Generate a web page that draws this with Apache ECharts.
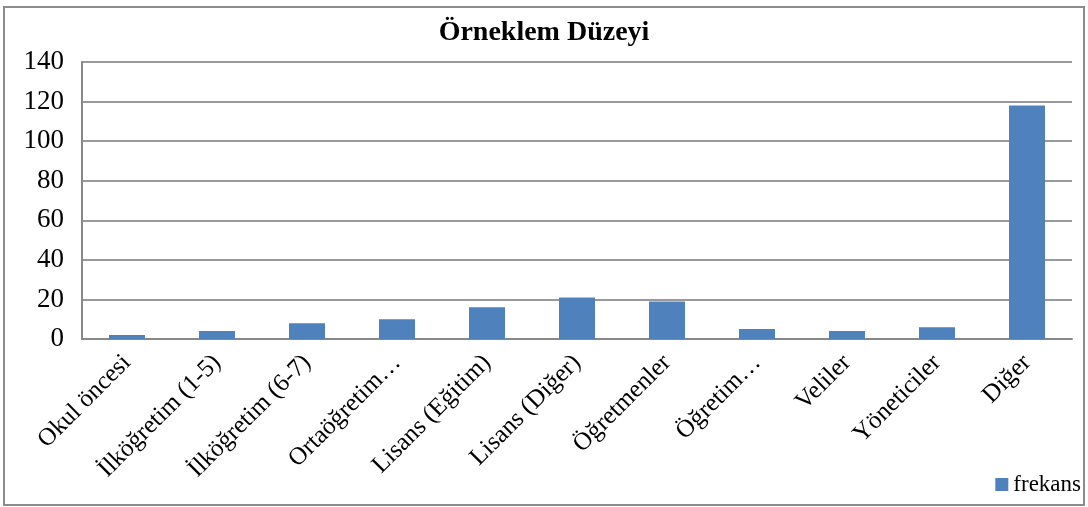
<!DOCTYPE html>
<html><head><meta charset="utf-8">
<script src="https://cdn.jsdelivr.net/npm/echarts@6/dist/echarts.min.js"></script>
<style>html,body{margin:0;padding:0;background:#fff}#c{width:1088px;height:507px}</style>
</head><body><div id="c"></div>
<script>
const categories = ["Okul öncesi","İlköğretim (1-5)","İlköğretim (6-7)","Ortaöğretim…","Lisans (Eğitim)","Lisans (Diğer)","Öğretmenler","Öğretim…","Veliler","Yöneticiler","Diğer"];
const frekans = [2,4,8,10,16,21,19,5,4,6,118];
const yTicks = {min:0,max:140,interval:20};
const chart = echarts.init(document.getElementById('c'));
const font = "'Liberation Serif','Times New Roman',serif";
chart.setOption({
  animation:false,
  graphic:[{type:'rect',shape:{x:4,y:7,width:1080,height:498},style:{fill:'none',stroke:'#8c8c8c',lineWidth:2}}],
  title:{text:'Örneklem Düzeyi',left:'center',top:14,textStyle:{fontFamily:font,fontSize:28,fontWeight:'bold',color:'#000'}},
  legend:{right:2,bottom:6,itemWidth:13,itemHeight:13,icon:'rect',itemGap:4,textStyle:{fontFamily:font,fontSize:23,color:'#000'},data:['frekans']},
  grid:{left:82,right:16,top:62,bottom:168,containLabel:false},
  xAxis:{type:'category',data:categories,
    axisLine:{lineStyle:{color:'#888',width:2}},axisTick:{show:false},
    axisLabel:{rotate:45,interval:0,fontFamily:font,fontSize:25,color:'#000',margin:20}},
  yAxis:{type:'value',min:yTicks.min,max:yTicks.max,interval:yTicks.interval,
    axisLine:{show:true,lineStyle:{color:'#888',width:2}},axisTick:{show:false},
    splitLine:{lineStyle:{color:'#999',width:2}},
    axisLabel:{fontFamily:font,fontSize:27,color:'#000',margin:18}},
  series:[{name:'frekans',type:'bar',data:frekans,barWidth:'40%',itemStyle:{color:'#4f81bd'}}]
});
</script></body></html>
